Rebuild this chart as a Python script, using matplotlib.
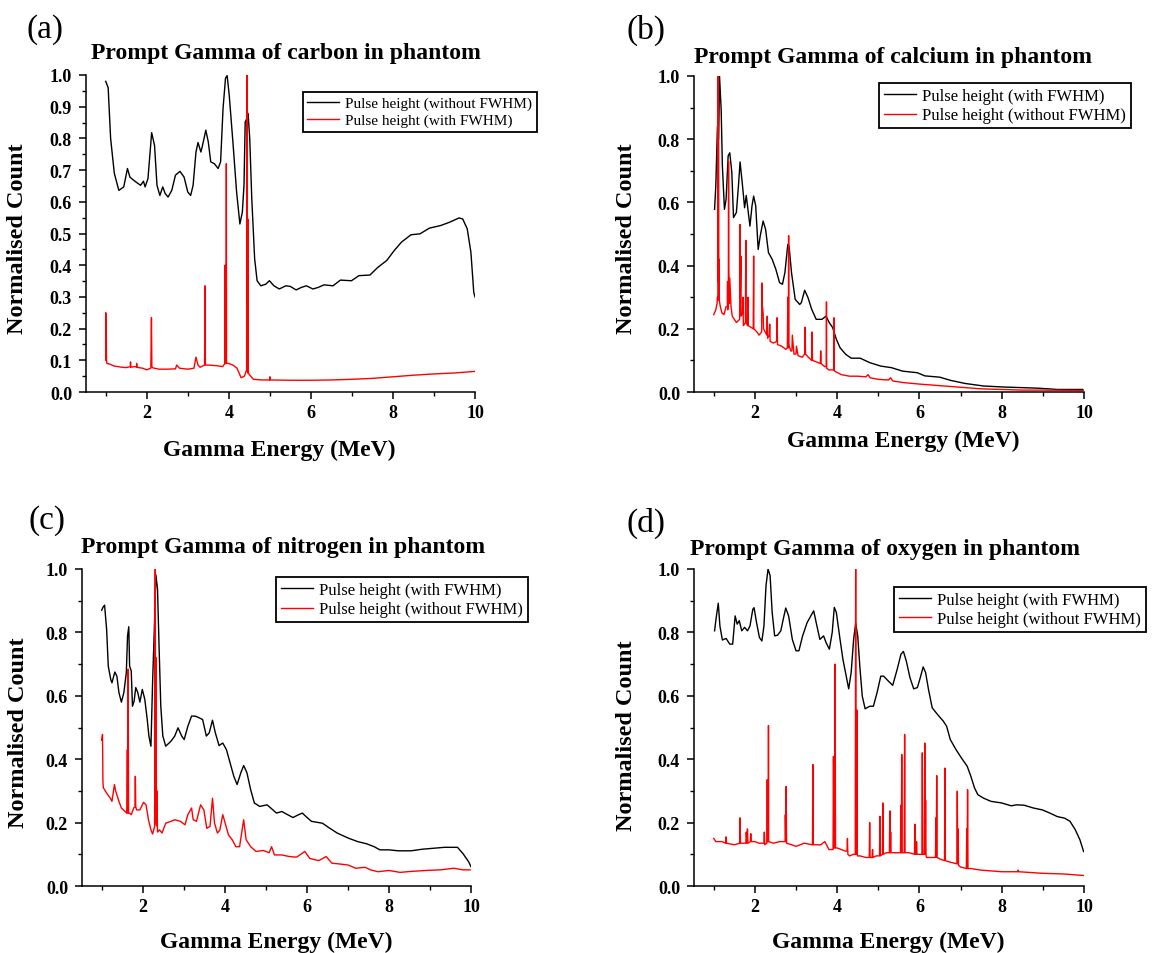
import matplotlib
matplotlib.use('Agg')
import matplotlib.pyplot as plt
from matplotlib.ticker import MultipleLocator, FormatStrFormatter

plt.rcParams['font.family'] = ['Liberation Serif', 'DejaVu Serif']
plt.rcParams['font.weight'] = 'bold'
plt.rcParams['axes.linewidth'] = 1.1

# ── (a) carbon ─────────────────────────────────────────────────────────
carbon_blk_e = [1.00, 1.06, 1.12, 1.21, 1.32, 1.44, 1.53, 1.59, 1.71, 1.85,
                1.92, 1.96, 2.03, 2.12, 2.19, 2.25, 2.32, 2.39, 2.45, 2.52,
                2.61, 2.70, 2.81, 2.91, 3.00, 3.07, 3.13, 3.20, 3.25, 3.32,
                3.36, 3.44, 3.50, 3.56, 3.65, 3.74, 3.80, 3.86, 3.92, 3.96,
                4.01, 4.10, 4.19, 4.27, 4.33, 4.37, 4.40, 4.44, 4.47, 4.51,
                4.56, 4.63, 4.69, 4.78, 4.90, 4.99, 5.10, 5.23, 5.39, 5.50,
                5.64, 5.77, 5.89, 6.05, 6.18, 6.32, 6.54, 6.72, 6.99, 7.17,
                7.44, 7.63, 7.85, 8.03, 8.21, 8.44, 8.66, 8.89, 9.16, 9.39,
                9.61, 9.70, 9.81, 9.90, 9.97, 10.0]
carbon_blk_v = [.98, .96, .80, .69, .636, .647, .705, .678, .665, .652,
                .665, .647, .673, .818, .778, .652, .62, .647, .626, .615,
                .636, .684, .696, .678, .631, .62, .652, .757, .787, .757,
                .778, .826, .789, .726, .72, .705, .726, .895, .99, .998,
                .937, .789, .631, .53, .567, .652, .852, .863, .879, .80,
                .61, .42, .351, .335, .34, .351, .335, .325, .335, .333,
                .322, .33, .335, .325, .33, .338, .335, .353, .351, .367,
                .369, .393, .415, .446, .473, .496, .499, .517, .525, .536,
                .549, .546, .515, .441, .314, .30]
carbon_red_e = [1.00, 1.002, 1.008, 1.015, 1.02, 1.03, 1.1, 1.2, 1.3, 1.4,
                1.5, 1.6, 1.605, 1.61, 1.7, 1.75, 1.755, 1.76, 1.9, 2.0,
                2.1, 2.115, 2.125, 2.15, 2.3, 2.5, 2.7, 2.73, 2.8, 3.0,
                3.15, 3.2, 3.25, 3.3, 3.41, 3.42, 3.43, 3.5, 3.7, 3.85,
                3.905, 3.91, 3.915, 3.935, 3.94, 3.945, 4.0, 4.1, 4.2, 4.3,
                4.38, 4.435, 4.44, 4.445, 4.465, 4.47, 4.475, 4.5, 4.6, 4.8,
                4.995, 5.0, 5.005, 5.5, 6.0, 6.5, 7.0, 7.5, 8.0, 8.5,
                9.0, 9.5, 10.0]
carbon_red_v = [.10, .25, .10, .175, .10, .09, .088, .082, .08, .078,
                .077, .08, .095, .078, .08, .079, .09, .078, .075, .07,
                .075, .235, .08, .076, .072, .072, .073, .085, .075, .072,
                .075, .11, .085, .078, .085, .335, .085, .085, .083, .08,
                .09, .40, .09, .09, .72, .09, .09, .085, .075, .045,
                .05, .07, 1.0, .07, .06, .545, .06, .055, .04, .038,
                .038, .048, .038, .037, .037, .038, .04, .043, .048, .053,
                .057, .06, .065]

# ── (b) calcium ────────────────────────────────────────────────────────
calcium_blk_e = [1.02, 1.05, 1.09, 1.12, 1.14, 1.18, 1.21, 1.26, 1.30, 1.35,
                 1.39, 1.44, 1.48, 1.55, 1.60, 1.64, 1.70, 1.75, 1.79, 1.84,
                 1.88, 1.93, 1.97, 2.02, 2.08, 2.13, 2.20, 2.26, 2.33, 2.42,
                 2.51, 2.60, 2.67, 2.73, 2.80, 2.83, 2.89, 2.98, 3.09, 3.13,
                 3.21, 3.29, 3.38, 3.49, 3.63, 3.73, 3.81, 3.89, 3.98, 4.07,
                 4.21, 4.34, 4.56, 4.79, 5.06, 5.32, 5.59, 5.95, 6.13, 6.49,
                 6.75, 7.11, 7.56, 8.00, 8.45, 8.90, 9.35, 9.97]
calcium_blk_v = [.578, .652, .84, .80, 1.0, .895, .715, .578, .61, .747,
                 .757, .694, .552, .568, .652, .728, .652, .583, .622, .568,
                 .525, .589, .62, .589, .451, .494, .541, .515, .441, .42,
                 .388, .346, .341, .378, .467, .462, .378, .293, .277, .283,
                 .322, .299, .262, .23, .23, .24, .219, .204, .167, .14,
                 .119, .107, .107, .093, .082, .077, .066, .061, .051, .047,
                 .037, .027, .019, .016, .014, .012, .008, .008]
calcium_red_e = [1.00, 1.05, 1.08, 1.09, 1.10, 1.105, 1.11, 1.115, 1.125, 1.13,
                 1.135, 1.16, 1.2, 1.25, 1.3, 1.33, 1.335, 1.34, 1.355, 1.36,
                 1.365, 1.38, 1.39, 1.42, 1.45, 1.55, 1.63, 1.64, 1.645, 1.66,
                 1.665, 1.7, 1.71, 1.72, 1.77, 1.78, 1.785, 1.82, 1.83, 1.84,
                 1.9, 1.96, 1.97, 1.975, 2.05, 2.1, 2.165, 2.17, 2.175, 2.2,
                 2.21, 2.25, 2.29, 2.3, 2.31, 2.35, 2.36, 2.37, 2.45, 2.53,
                 2.54, 2.55, 2.65, 2.75, 2.79, 2.8, 2.805, 2.815, 2.82, 2.825,
                 2.87, 2.9, 2.91, 2.95, 3.0, 3.01, 3.05, 3.15, 3.21, 3.22,
                 3.23, 3.3, 3.38, 3.39, 3.4, 3.5, 3.59, 3.6, 3.61, 3.7,
                 3.735, 3.74, 3.745, 3.8, 3.9, 3.915, 3.92, 3.925, 3.95, 4.1,
                 4.3, 4.5, 4.7, 4.75, 4.8, 5.0, 5.25, 5.3, 5.35, 5.6,
                 6.0, 6.5, 7.0, 7.5, 8.0, 8.5, 9.0, 10.0]
calcium_red_v = [.245, .26, .28, .30, .29, 1.0, .35, .80, .30, .42,
                 .29, .27, .25, .245, .27, .27, .35, .26, .30, .73,
                 .39, .28, .36, .27, .24, .22, .23, .53, .30, .43,
                 .24, .25, .30, .21, .22, .48, .22, .21, .30, .21,
                 .205, .20, .43, .20, .19, .18, .19, .345, .28, .25,
                 .20, .19, .18, .24, .17, .18, .215, .16, .155, .16,
                 .235, .15, .145, .135, .14, .30, .14, .14, .495, .15,
                 .13, .13, .18, .12, .12, .145, .115, .11, .12, .205,
                 .12, .11, .10, .19, .10, .095, .09, .13, .09, .08,
                 .08, .285, .075, .07, .07, .07, .235, .07, .065, .055,
                 .05, .05, .048, .055, .045, .04, .038, .045, .035, .03,
                 .025, .02, .015, .01, .008, .006, .006, .005]

# ── (c) nitrogen ───────────────────────────────────────────────────────
nitrogen_blk_e = [1.00, 1.03, 1.07, 1.12, 1.16, 1.22, 1.25, 1.32, 1.37, 1.42,
                  1.48, 1.54, 1.60, 1.63, 1.66, 1.68, 1.72, 1.75, 1.79, 1.83,
                  1.88, 1.93, 1.99, 2.05, 2.11, 2.15, 2.20, 2.24, 2.29, 2.32,
                  2.36, 2.40, 2.44, 2.49, 2.56, 2.69, 2.78, 2.86, 2.95, 3.01,
                  3.10, 3.19, 3.28, 3.37, 3.46, 3.55, 3.62, 3.70, 3.77, 3.86,
                  3.95, 4.04, 4.13, 4.22, 4.30, 4.39, 4.46, 4.54, 4.63, 4.72,
                  4.85, 5.03, 5.12, 5.26, 5.39, 5.53, 5.66, 5.80, 5.89, 5.98,
                  6.11, 6.38, 6.56, 6.74, 7.01, 7.24, 7.46, 7.64, 7.78, 8.00,
                  8.23, 8.54, 8.81, 9.08, 9.35, 9.67, 9.80, 9.94, 10.0]
nitrogen_blk_v = [.87, .879, .886, .81, .694, .652, .641, .675, .662, .61,
                  .58, .61, .673, .789, .818, .694, .678, .567, .583, .626,
                  .61, .58, .62, .589, .525, .473, .441, .641, .842, .982,
                  .937, .747, .567, .473, .441, .457, .473, .499, .473, .462,
                  .504, .536, .536, .531, .525, .473, .483, .523, .483, .443,
                  .451, .43, .388, .346, .32, .357, .38, .357, .304, .262,
                  .251, .256, .246, .23, .235, .225, .216, .225, .23, .219,
                  .204, .198, .182, .167, .151, .14, .133, .124, .114, .114,
                  .111, .111, .116, .119, .122, .122, .103, .077, .061]
nitrogen_red_e = [1.00, 1.02, 1.03, 1.04, 1.12, 1.21, 1.25, 1.31, 1.34, 1.42,
                  1.48, 1.57, 1.61, 1.625, 1.635, 1.645, 1.655, 1.68, 1.72, 1.78,
                  1.81, 1.82, 1.83, 1.85, 1.93, 2.02, 2.08, 2.14, 2.20, 2.24,
                  2.29, 2.305, 2.315, 2.325, 2.335, 2.345, 2.36, 2.41, 2.47, 2.56,
                  2.69, 2.78, 2.92, 3.03, 3.10, 3.19, 3.23, 3.31, 3.41, 3.49,
                  3.56, 3.64, 3.70, 3.75, 3.82, 3.88, 3.95, 4.01, 4.09, 4.18,
                  4.27, 4.36, 4.46, 4.52, 4.63, 4.76, 4.94, 5.08, 5.14, 5.21,
                  5.39, 5.57, 5.75, 5.95, 6.07, 6.29, 6.47, 6.61, 6.83, 7.01,
                  7.19, 7.42, 7.55, 7.73, 8.00, 8.27, 8.54, 8.90, 9.26, 9.58,
                  9.80, 9.98]
nitrogen_red_v = [.46, .478, .33, .31, .293, .277, .267, .32, .30, .267,
                  .246, .235, .23, .43, .23, .684, .23, .23, .225, .246,
                  .25, .346, .25, .24, .24, .264, .256, .209, .177, .164,
                  .188, 1.0, .20, .72, .19, .30, .17, .177, .167, .198,
                  .204, .209, .204, .193, .225, .246, .209, .204, .256, .24,
                  .182, .188, .277, .198, .167, .177, .225, .198, .161, .146,
                  .124, .124, .209, .146, .124, .109, .112, .105, .124, .098,
                  .098, .093, .091, .109, .087, .08, .093, .072, .069, .066,
                  .056, .059, .051, .045, .049, .043, .046, .049, .051, .056,
                  .051, .051]

# ── (d) oxygen ─────────────────────────────────────────────────────────
oxygen_blk_e = [1.02, 1.06, 1.11, 1.15, 1.21, 1.30, 1.39, 1.46, 1.52, 1.57,
                1.62, 1.68, 1.75, 1.82, 1.88, 1.95, 1.98, 2.04, 2.11, 2.17,
                2.22, 2.27, 2.32, 2.37, 2.42, 2.48, 2.55, 2.63, 2.69, 2.75,
                2.82, 2.91, 3.00, 3.07, 3.16, 3.27, 3.36, 3.43, 3.49, 3.58,
                3.67, 3.73, 3.81, 3.88, 3.93, 3.98, 4.07, 4.14, 4.22, 4.28,
                4.34, 4.40, 4.45, 4.50, 4.55, 4.61, 4.68, 4.79, 4.88, 4.97,
                5.06, 5.13, 5.24, 5.35, 5.46, 5.55, 5.61, 5.68, 5.77, 5.86,
                5.95, 6.02, 6.09, 6.15, 6.22, 6.31, 6.44, 6.58, 6.66, 6.75,
                6.89, 7.02, 7.16, 7.25, 7.34, 7.42, 7.56, 7.74, 8.00, 8.23,
                8.36, 8.54, 8.77, 8.99, 9.17, 9.35, 9.53, 9.66, 9.79, 9.90,
                9.99]
oxygen_blk_v = [.805, .847, .892, .82, .776, .781, .763, .763, .852, .826,
                .837, .805, .816, .805, .82, .873, .878, .831, .784, .773,
                .82, .947, 1.0, .979, .863, .789, .791, .805, .842, .877,
                .852, .778, .742, .742, .789, .831, .852, .868, .831, .778,
                .789, .768, .747, .8, .879, .863, .778, .715, .662, .622,
                .673, .778, .829, .789, .694, .599, .559, .567, .567, .61,
                .662, .662, .647, .633, .684, .731, .74, .71, .657, .622,
                .626, .657, .691, .673, .62, .562, .541, .52, .504, .462,
                .43, .404, .378, .346, .309, .288, .277, .267, .262, .253,
                .256, .255, .246, .24, .23, .219, .214, .204, .177, .146,
                .109]
oxygen_red_e = [1.00, 1.05, 1.2, 1.29, 1.3, 1.31, 1.5, 1.63, 1.64, 1.65,
                1.75, 1.78, 1.79, 1.81, 1.82, 1.83, 1.89, 1.9, 1.91, 2.0,
                2.1, 2.22, 2.23, 2.24, 2.29, 2.30, 2.31, 2.325, 2.33, 2.335,
                2.45, 2.6, 2.735, 2.74, 2.75, 2.76, 2.77, 2.9, 3.0, 3.2,
                3.4, 3.41, 3.42, 3.6, 3.7, 3.8, 3.9, 3.91, 3.92, 3.94,
                3.95, 3.96, 4.0, 4.1, 4.2, 4.24, 4.25, 4.26, 4.3, 4.4,
                4.44, 4.45, 4.46, 4.47, 4.48, 4.49, 4.55, 4.7, 4.78, 4.79,
                4.8, 4.85, 4.86, 4.87, 4.95, 5.03, 5.04, 5.05, 5.1, 5.11,
                5.12, 5.2, 5.27, 5.28, 5.29, 5.3, 5.31, 5.32, 5.45, 5.54,
                5.55, 5.56, 5.57, 5.58, 5.63, 5.64, 5.65, 5.75, 5.88, 5.89,
                5.9, 5.92, 5.93, 5.94, 6.0, 6.06, 6.07, 6.08, 6.12, 6.13,
                6.14, 6.15, 6.16, 6.17, 6.25, 6.39, 6.4, 6.41, 6.42, 6.43,
                6.5, 6.61, 6.62, 6.63, 6.75, 6.91, 6.92, 6.93, 6.94, 6.95,
                7.0, 7.14, 7.15, 7.16, 7.17, 7.18, 7.25, 7.5, 8.0, 8.39,
                8.4, 8.41, 9.0, 9.5, 10.0]
oxygen_red_v = [.15, .14, .14, .135, .155, .135, .13, .135, .215, .135,
                .135, .135, .17, .135, .18, .135, .14, .165, .14, .14,
                .135, .135, .17, .13, .135, .335, .14, .14, .506, .14,
                .135, .14, .14, .225, .14, .314, .135, .13, .125, .135,
                .13, .383, .13, .13, .14, .115, .115, .409, .12, .12,
                .70, .12, .12, .115, .11, .11, .15, .10, .095, .10,
                .10, 1.0, .10, .10, .555, .095, .095, .09, .09, .20,
                .09, .09, .115, .09, .095, .095, .22, .095, .10, .262,
                .10, .105, .105, .237, .105, .17, .105, .105, .105, .105,
                .255, .105, .415, .105, .105, .478, .105, .105, .10, .195,
                .10, .10, .14, .10, .10, .10, .42, .10, .10, .451,
                .10, .27, .10, .09, .09, .09, .215, .09, .348, .09,
                .085, .08, .372, .08, .075, .07, .299, .07, .18, .065,
                .06, .055, .18, .055, .304, .055, .055, .05, .045, .045,
                .05, .045, .04, .038, .033]

LBL_WITH = 'Pulse height (with FWHM)'
LBL_WITHOUT = 'Pulse height (without FWHM)'

W, H = 1154, 954
fig = plt.figure(figsize=(W / 100, H / 100), dpi=100)


def fx(x):
    return x / W


def fy(y):
    return 1 - y / H


def make_panel(box, ystep, title, title_xy, letter, letter_xy, xlab_xy, ylab_xy,
               leg_xy, leg_size):
    left, top, right, bottom = box
    ax = fig.add_axes([fx(left), fy(bottom), (right - left) / W, (bottom - top) / H])
    ax.set_xlim(0.52, 10)
    ax.set_ylim(0, 1.0)
    ax.spines['top'].set_visible(False)
    ax.spines['right'].set_visible(False)
    ax.xaxis.set_major_locator(MultipleLocator(2))
    ax.xaxis.set_minor_locator(MultipleLocator(1))
    ax.yaxis.set_major_locator(MultipleLocator(ystep))
    ax.yaxis.set_minor_locator(MultipleLocator(ystep / 2))
    ax.yaxis.set_major_formatter(FormatStrFormatter('%.1f'))
    ax.tick_params(which='major', direction='out', length=5, width=1.1, labelsize=13)
    ax.tick_params(which='minor', direction='out', length=3, width=1.0)
    ax.tick_params(axis='x', which='major', pad=4)
    ax.tick_params(axis='y', which='major', pad=5)

    fig.text(fx(title_xy[0]), fy(title_xy[1]), title, fontsize=17,
             fontweight='bold', ha='center', va='center')
    fig.text(fx(letter_xy[0]), fy(letter_xy[1]), letter, fontsize=24,
             fontweight='normal', ha='left', va='center')
    fig.text(fx(xlab_xy[0]), fy(xlab_xy[1]), 'Gamma Energy (MeV)', fontsize=17,
             fontweight='bold', ha='center', va='center')
    fig.text(fx(ylab_xy[0]), fy(ylab_xy[1]), 'Normalised Count', fontsize=17.5,
             fontweight='bold', ha='center', va='center', rotation=90)
    ax.leg_xy = leg_xy
    ax.leg_size = leg_size
    return ax


def add_legend(ax):
    leg = ax.legend(loc='upper left', bbox_to_anchor=(fx(ax.leg_xy[0]), fy(ax.leg_xy[1])),
                    bbox_transform=fig.transFigure, fancybox=False,
                    frameon=True, edgecolor='black', borderaxespad=0, framealpha=1,
                    prop={'weight': 'normal', 'size': ax.leg_size},
                    handlelength=32 / (ax.leg_size * 100 / 72),
                    labelspacing=0.2, borderpad=0.3, handletextpad=0.4)
    leg.get_frame().set_linewidth(1.3)


# (a)
ax = make_panel((86, 76, 475, 393), 0.1, 'Prompt Gamma of carbon in phantom', (286, 53),
                '(a)', (26, 30), (279.5, 450), (17.6, 239), (302.5, 92.7), 11)
ax.plot(carbon_blk_e, carbon_blk_v, color='black', lw=1.0, label=LBL_WITHOUT)
ax.plot(carbon_red_e, carbon_red_v, color='red', lw=1.0, label=LBL_WITH)
add_legend(ax)

# (b)
ax = make_panel((694, 77, 1084, 393), 0.2, 'Prompt Gamma of calcium in phantom', (892.5, 58),
                '(b)', (627, 30), (903, 441), (626, 239), (878.8, 84), 12)
ax.plot(calcium_blk_e, calcium_blk_v, color='black', lw=1.0, label=LBL_WITH)
ax.plot(calcium_red_e, calcium_red_v, color='red', lw=1.0, label=LBL_WITHOUT)
add_legend(ax)

# (c)
ax = make_panel((82, 570, 471, 887), 0.2, 'Prompt Gamma of nitrogen in phantom', (282.8, 548),
                '(c)', (28, 521), (276.4, 942), (18.8, 732.5), (275.6, 578), 12)
ax.plot(nitrogen_blk_e, nitrogen_blk_v, color='black', lw=1.0, label=LBL_WITH)
ax.plot(nitrogen_red_e, nitrogen_red_v, color='red', lw=1.0, label=LBL_WITHOUT)
add_legend(ax)

# (d)
ax = make_panel((694, 570, 1084, 887), 0.2, 'Prompt Gamma of oxygen in phantom', (885, 550),
                '(d)', (627, 523), (888, 942), (626, 736), (893.5, 588), 12)
ax.plot(oxygen_blk_e, oxygen_blk_v, color='black', lw=1.0, label=LBL_WITH)
ax.plot(oxygen_red_e, oxygen_red_v, color='red', lw=1.0, label=LBL_WITHOUT)
add_legend(ax)

fig.savefig('out.png', dpi=100, facecolor='white')
